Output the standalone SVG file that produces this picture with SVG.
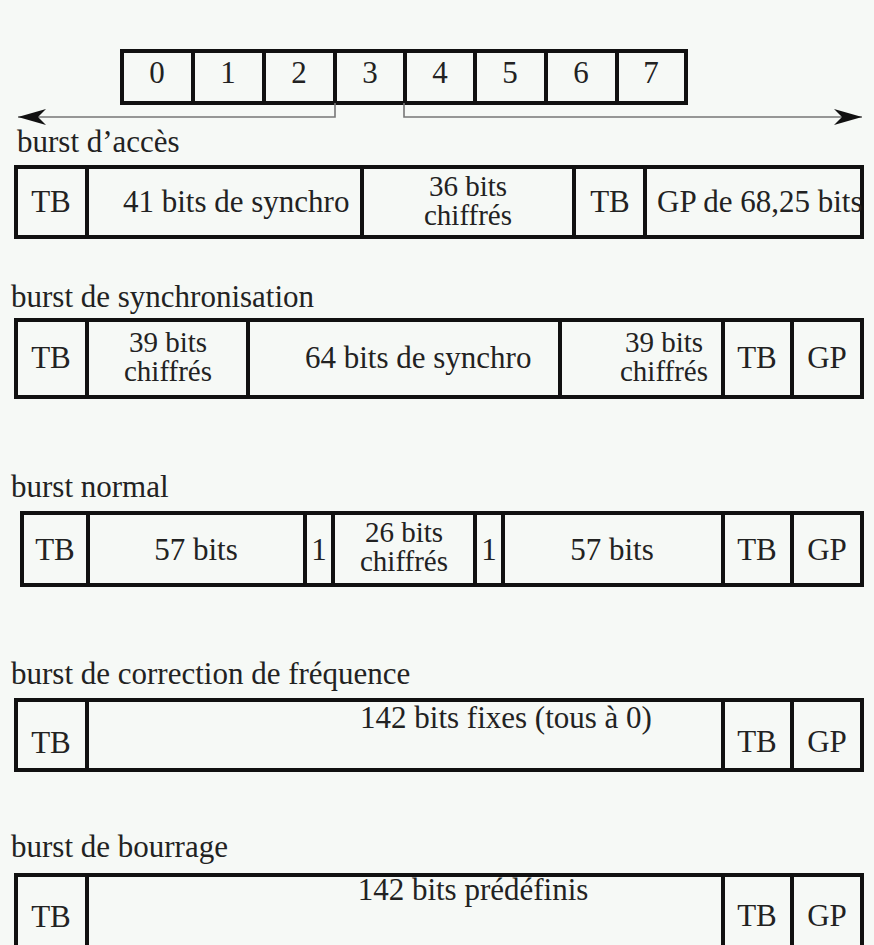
<svg xmlns="http://www.w3.org/2000/svg" width="874" height="945" viewBox="0 0 874 945">
<defs>
<style>
text{font-family:"Liberation Serif","DejaVu Serif",serif;font-size:31px;fill:#222}
.c{text-anchor:middle}
.s{font-size:29px}
.box{fill:none;stroke:#111;stroke-width:4}
.div{stroke:#111;stroke-width:4}
.conn{fill:none;stroke:#777;stroke-width:1.6}
</style>
<marker id="arr" markerUnits="userSpaceOnUse" markerWidth="30" markerHeight="20" refX="28" refY="10" orient="auto" viewBox="0 0 30 20">
<path d="M0,2 L28,10 L0,18 L8,10 Z" fill="#111"/>
</marker>
</defs>
<rect width="874" height="945" fill="#f6f9f6"/>

<g id="slots">
<rect class="box" x="122" y="51" width="564" height="52"/>
<path class="div" d="M193,51V103M264,51V103M335,51V103M405,51V103M475,51V103M546,51V103M617,51V103"/>
<text class="c" x="157" y="83">0</text>
<text class="c" x="228" y="83">1</text>
<text class="c" x="299" y="83">2</text>
<text class="c" x="370" y="83">3</text>
<text class="c" x="440" y="83">4</text>
<text class="c" x="510" y="83">5</text>
<text class="c" x="581" y="83">6</text>
<text class="c" x="651" y="83">7</text>
</g>

<g id="connectors">
<path class="conn" d="M335,103V117H18" marker-end="url(#arr)"/>
<path class="conn" d="M404,103V117H862" marker-end="url(#arr)"/>
</g>

<g id="burst-acces">
<text x="17" y="152">burst d’accès</text>
<rect class="box" x="16" y="167" width="846" height="70"/>
<path class="div" d="M87,167V237M362,167V237M574,167V237M645,167V237"/>
<text class="c" x="51" y="212">TB</text>
<text x="123" y="212">41 bits de synchro</text>
<text class="c s" x="468" y="196">36 bits</text>
<text class="c s" x="468" y="225">chiffrés</text>
<text class="c" x="610" y="212">TB</text>
<text x="657" y="212">GP de 68,25 bits</text>
</g>

<g id="burst-synchro">
<text x="11" y="307">burst de synchronisation</text>
<rect class="box" x="16" y="320" width="846" height="77"/>
<path class="div" d="M87,320V397M248,320V397M560,320V397M723,320V397M792,320V397"/>
<text class="c" x="51" y="368">TB</text>
<text class="c s" x="168" y="352">39 bits</text>
<text class="c s" x="168" y="381">chiffrés</text>
<text x="305" y="368">64 bits de synchro</text>
<text class="c s" x="664" y="352">39 bits</text>
<text class="c s" x="664" y="381">chiffrés</text>
<text class="c" x="757" y="368">TB</text>
<text class="c" x="827" y="368">GP</text>
</g>

<g id="burst-normal">
<text x="11" y="497">burst normal</text>
<rect class="box" x="22" y="513" width="840" height="72"/>
<path class="div" d="M88,513V585M305,513V585M333,513V585M475,513V585M503,513V585M723,513V585M792,513V585"/>
<text class="c" x="55" y="560">TB</text>
<text class="c" x="196" y="560">57 bits</text>
<text class="c" x="319" y="560">1</text>
<text class="c s" x="404" y="542">26 bits</text>
<text class="c s" x="404" y="571">chiffrés</text>
<text class="c" x="489" y="560">1</text>
<text class="c" x="612" y="560">57 bits</text>
<text class="c" x="757" y="560">TB</text>
<text class="c" x="827" y="560">GP</text>
</g>

<g id="burst-correction">
<text x="11" y="684">burst de correction de fréquence</text>
<rect class="box" x="16" y="700" width="846" height="70"/>
<path class="div" d="M87,700V770M723,700V770M792,700V770"/>
<text class="c" x="51" y="753">TB</text>
<text class="c" x="506" y="728">142 bits fixes (tous à 0)</text>
<text class="c" x="757" y="752">TB</text>
<text class="c" x="827" y="752">GP</text>
</g>

<g id="burst-bourrage">
<text x="11" y="857">burst de bourrage</text>
<rect class="box" x="16" y="875" width="846" height="80"/>
<path class="div" d="M87,875V945M723,875V945M792,875V945"/>
<text class="c" x="51" y="927">TB</text>
<text class="c" x="473" y="900">142 bits prédéfinis</text>
<text class="c" x="757" y="926">TB</text>
<text class="c" x="827" y="926">GP</text>
</g>
</svg>
